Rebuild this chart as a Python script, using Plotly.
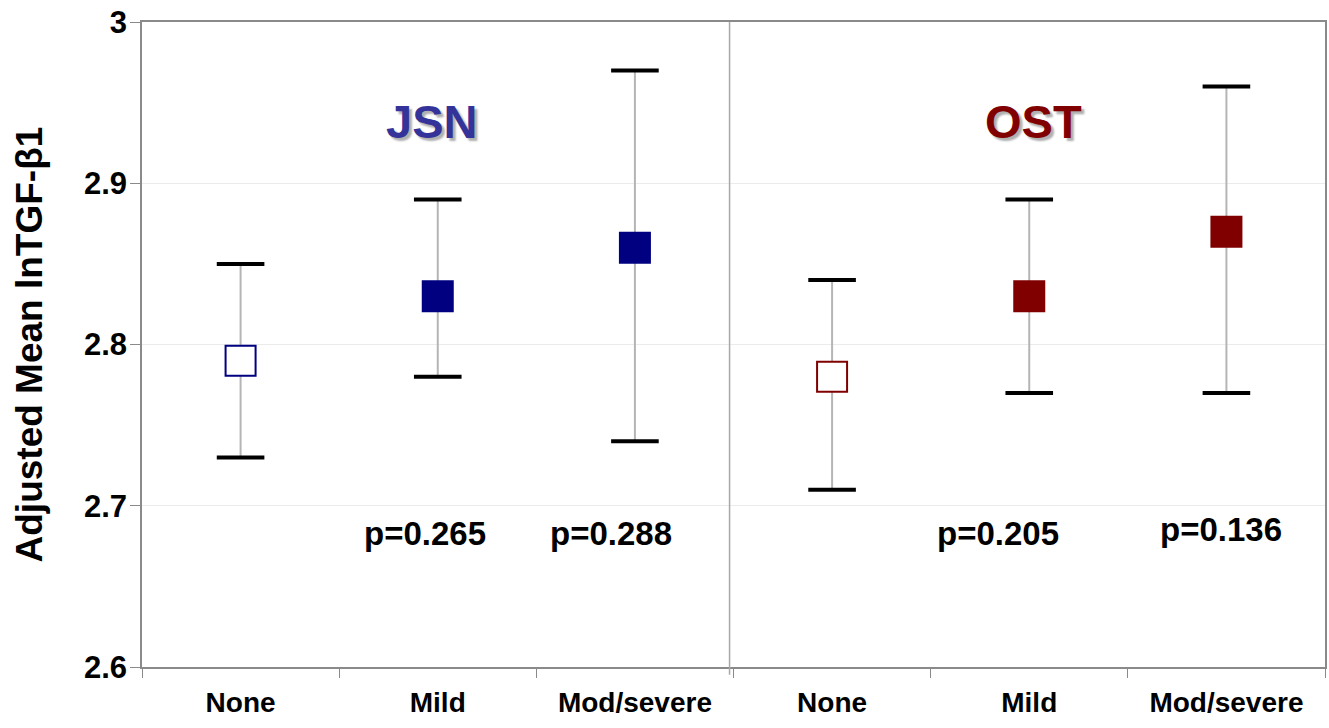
import plotly.graph_objects as go

# ---- data ----
categories = ["None", "Mild", "Mod/severe", "None", "Mild", "Mod/severe"]
groups = ["JSN", "OST"]
jsn_mean = [2.79, 2.83, 2.86]
jsn_lo = [2.73, 2.78, 2.74]
jsn_hi = [2.85, 2.89, 2.97]
ost_mean = [2.78, 2.83, 2.87]
ost_lo = [2.71, 2.77, 2.77]
ost_hi = [2.84, 2.89, 2.96]
p_labels = ["p=0.265", "p=0.288", "p=0.205", "p=0.136"]
y_ticks = [2.6, 2.7, 2.8, 2.9, 3.0]
y_ticktext = ["2.6", "2.7", "2.8", "2.9", "3"]
y_title = "Adjusted Mean lnTGF-β1"

FONT = "Liberation Sans, Arial, sans-serif"
colors = {"JSN": "#000080", "OST": "#800000"}
title_colors = {"JSN": "#333399", "OST": "#800000"}

fig = go.Figure()

series = [
    ("JSN", [0, 1, 2], jsn_mean, jsn_lo, jsn_hi),
    ("OST", [3, 4, 5], ost_mean, ost_lo, ost_hi),
]

for name, xs, m, lo, hi in series:
    # stems
    sx, sy = [], []
    for x, a, b in zip(xs, lo, hi):
        sx += [x, x, None]
        sy += [a, b, None]
    fig.add_trace(go.Scatter(x=sx, y=sy, mode="lines",
                             line=dict(color="#b5b5b5", width=2),
                             hoverinfo="skip"))
    # caps
    fig.add_trace(go.Scatter(x=xs + xs, y=lo + hi, mode="markers",
                             marker=dict(symbol="line-ew", size=34,
                                         line=dict(color="black", width=4)),
                             hoverinfo="skip"))
    # means
    c = colors[name]
    fig.add_trace(go.Scatter(x=xs, y=m, mode="markers", name=name,
                             marker=dict(symbol="square", size=30,
                                         color=["white", c, c],
                                         line=dict(color=c, width=2))))

annotations = []
# group titles with shadow
for name, gx in zip(groups, [0.97, 4.02]):
    annotations.append(dict(x=gx, y=2.938, xref="x", yref="y", text=name,
                            showarrow=False,
                            font=dict(family=FONT, size=47, color=title_colors[name],
                                      weight="bold", shadow="3px 3px 2px #b0b0b0")))
# p-values
for txt, px, py in zip(p_labels, [0.935, 1.88, 3.84, 4.97], [2.683, 2.683, 2.683, 2.685]):
    annotations.append(dict(x=px, y=py, xref="x", yref="y", text=txt, showarrow=False,
                            font=dict(family=FONT, size=33, color="black", weight="bold")))
# y title
annotations.append(dict(x=-0.0947, y=0.5, xref="paper", yref="paper", text=y_title,
                        textangle=-90, showarrow=False, xanchor="center", yanchor="middle",
                        font=dict(family=FONT, size=37, color="black", weight="bold")))

fig.update_layout(
    width=1329, height=728,
    margin=dict(l=142, r=4, t=22, b=61),
    plot_bgcolor="white", paper_bgcolor="white",
    showlegend=False,
    annotations=annotations,
    shapes=[dict(type="line", xref="x", yref="paper", x0=2.48, x1=2.48, y0=-0.012, y1=1,
                 line=dict(color="#a8a8a8", width=1.5))],
    xaxis=dict(range=[-0.5, 5.5], tickmode="array", tickvals=[0, 1, 2, 3, 4, 5],
               ticktext=categories, ticks="", showgrid=False, zeroline=False,
               showline=True, linecolor="#8a8a8a", linewidth=1.5, mirror=True,
               automargin=False,
               ticklabelstandoff=10, ticklabeloverflow="allow",
               minor=dict(tickmode="array", tickvals=[-0.5, 0.5, 1.5, 2.5, 3.5, 4.5, 5.5],
                          ticks="outside", ticklen=9, tickcolor="#8a8a8a", tickwidth=1,
                          showgrid=False),
               tickfont=dict(family=FONT, size=28, color="black", weight="bold")),
    yaxis=dict(range=[2.6, 3.0], tickmode="array", tickvals=y_ticks, ticktext=y_ticktext,
               ticks="outside", ticklen=10, tickcolor="#8a8a8a", tickwidth=1,
               showgrid=True, gridcolor="#ebebeb", gridwidth=1, zeroline=False,
               showline=True, linecolor="#8a8a8a", linewidth=1.5, mirror=True,
               automargin=False,
               ticklabelstandoff=-3, ticklabeloverflow="allow",
               tickfont=dict(family=FONT, size=31, color="black", weight="bold")),
)

fig.write_html("out.html",
               config={"displayModeBar": False},
               post_script="document.body.style.margin='0px';document.body.style.overflow='hidden';")
